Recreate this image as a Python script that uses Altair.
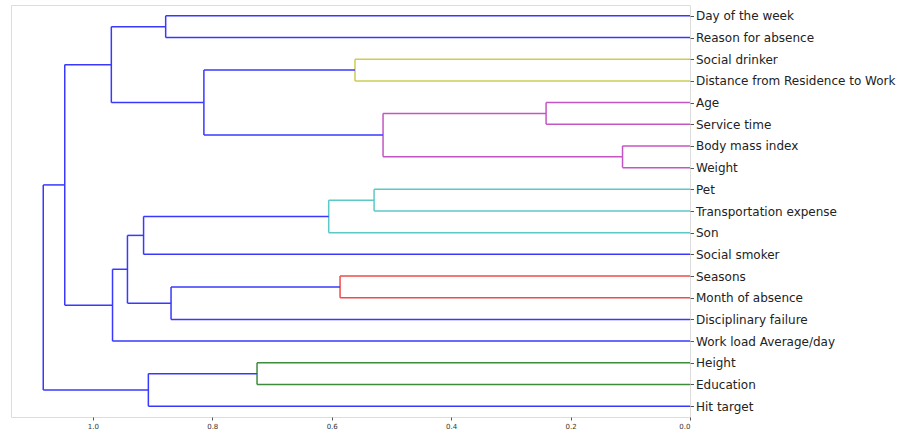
import altair as alt
import pandas as pd

# Leaves, top to bottom
leaves = [
    "Day of the week", "Reason for absence", "Social drinker",
    "Distance from Residence to Work", "Age", "Service time",
    "Body mass index", "Weight", "Pet", "Transportation expense", "Son",
    "Social smoker", "Seasons", "Month of absence", "Disciplinary failure",
    "Work load Average/day", "Height", "Education", "Hit target",
]

# Merges: (left child, right child, distance, colour key); new ids start at 19
merge_left = [6, 4, 20, 8, 2, 12, 22, 16, 23, 24, 0, 26, 25, 31, 32, 29, 34, 35]
merge_right = [7, 5, 19, 9, 3, 13, 10, 17, 21, 14, 1, 18, 11, 28, 15, 27, 33, 30]
merge_height = [0.113, 0.241, 0.514, 0.529, 0.561, 0.586, 0.605, 0.725, 0.814,
                0.869, 0.878, 0.907, 0.915, 0.942, 0.967, 0.969, 1.047, 1.083]
merge_color = ["m", "m", "m", "c", "y", "r", "c", "g", "b",
               "b", "b", "b", "b", "b", "b", "b", "b", "b"]

color_keys = ["b", "g", "r", "c", "m", "y"]
color_vals = ["#3838FF", "#3C8C3C", "#F04A4A", "#5CC8C8", "#C455C4", "#CDCD55"]

pos = {i: (5 + 10 * i, 0.0) for i in range(len(leaves))}
rows = []
nid = len(leaves)
for a, b, h, c in zip(merge_left, merge_right, merge_height, merge_color):
    ya, ha = pos[a]
    yb, hb = pos[b]
    rows.append(dict(x=ha, x2=h, y=ya, y2=ya, c=c))
    rows.append(dict(x=h, x2=h, y=ya, y2=yb, c=c))
    rows.append(dict(x=hb, x2=h, y=yb, y2=yb, c=c))
    pos[nid] = ((ya + yb) / 2, h)
    nid += 1

df = pd.DataFrame(rows)

label_arr = "[" + ",".join("'" + s + "'" for s in leaves) + "]"

chart = alt.Chart(df).mark_rule(strokeWidth=1.5).encode(
    x=alt.X("x:Q",
            scale=alt.Scale(domain=[1.137, 0], nice=False, zero=False),
            axis=alt.Axis(title=None, values=[0, 0.2, 0.4, 0.6, 0.8, 1.0],
                          format=".1f", labelFontSize=7, labelColor="#333",
                          tickSize=3, tickColor="#555", domain=False,
                          grid=False, labelFont="DejaVu Sans")),
    x2="x2:Q",
    y=alt.Y("y:Q",
            scale=alt.Scale(domain=[0, 190], reverse=True, nice=False, zero=False),
            axis=alt.Axis(title=None, orient="right",
                          values=[5 + 10 * i for i in range(len(leaves))],
                          labelExpr=label_arr + "[round((datum.value-5)/10)]",
                          labelFontSize=12, labelColor="#222",
                          labelFont="DejaVu Sans", labelPadding=2,
                          labelLimit=0,
                          tickSize=3.5, tickColor="#555", domain=False,
                          grid=False)),
    y2="y2:Q",
    color=alt.Color("c:N", scale=alt.Scale(domain=color_keys, range=color_vals),
                    legend=None),
).properties(
    width=679, height=412,
    autosize=alt.AutoSizeParams(type="none"),
    padding={"left": 11, "top": 5, "right": 222, "bottom": 18},
).configure_view(stroke="#666", strokeWidth=1).configure(background="white")

chart.save("out.html", embed_options={"renderer": "svg", "actions": False})
